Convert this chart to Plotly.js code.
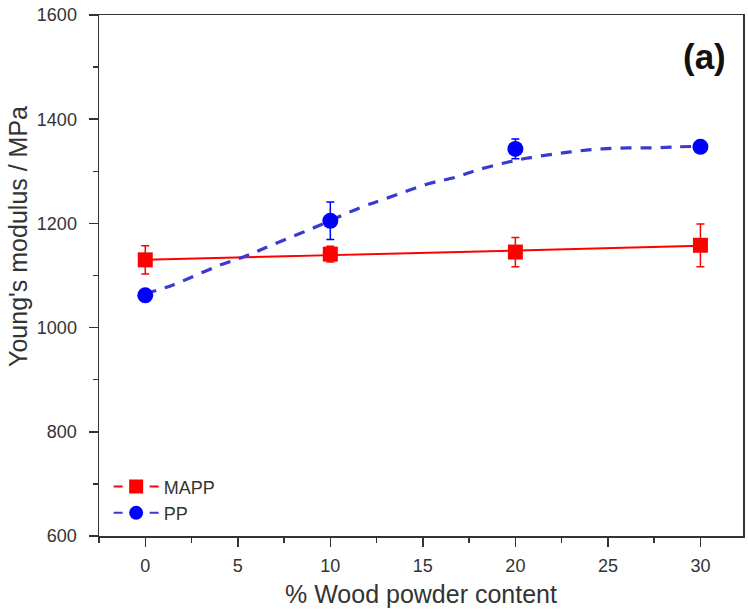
<!DOCTYPE html>
<html>
<head>
<meta charset="utf-8">
<script src="https://cdn.plot.ly/plotly-3.0.1.min.js"></script>
<style>html,body{margin:0;padding:0;background:#fff;}#chart{width:748px;height:613px;}</style>
</head>
<body>
<div id="chart"></div>
<script>
// Data
var woodContent = [0, 10, 20, 30];
var mappModulus = [1130, 1141, 1145, 1158];
var mappError = [27, 15, 28, 41];
var ppModulus = [1062, 1205, 1343, 1347];
var ppError = [8, 36, 19, 10];

// Fit lines as drawn in the reference
var mappFitX = [0, 30];
var mappFitY = [1130, 1157];
var ppFitX = [0, 1.5, 3.9, 5.4, 6.8, 9.2, 11.6, 13.1, 15.3, 16.8, 17.9, 19.4, 20.6, 22.1, 23.4, 24.7, 26.1, 27.5, 28.8, 30];
var ppFitY = [1065, 1082, 1118, 1137, 1158, 1193, 1230, 1249, 1276, 1289, 1302, 1316, 1325, 1333, 1339, 1343, 1345, 1345, 1347, 1348];

var xTicks = [0, 5, 10, 15, 20, 25, 30];
var yTicks = [600, 800, 1000, 1200, 1400, 1600];

var RED = '#ff0000', BLUE = '#0000ff', BLUE_LINE = '#3a3ad0';
var FONT = 'Liberation Sans, Arial, sans-serif';

var traces = [
  {x: mappFitX, y: mappFitY, mode: 'lines', line: {color: RED, width: 2}, showlegend: false, hoverinfo: 'skip'},
  {x: ppFitX, y: ppFitY, mode: 'lines', line: {color: BLUE_LINE, width: 3.2, dash: '11px,9px', shape: 'spline'}, showlegend: false, hoverinfo: 'skip'},
  {x: woodContent, y: mappModulus, mode: 'markers', name: 'MAPP', showlegend: false,
   marker: {symbol: 'square', size: 15, color: RED},
   error_y: {type: 'data', array: mappError, visible: true, color: RED, thickness: 1.5, width: 4}},
  {x: woodContent, y: ppModulus, mode: 'markers', name: 'PP', showlegend: false,
   marker: {symbol: 'circle', size: 16, color: BLUE},
   error_y: {type: 'data', array: ppError, visible: true, color: BLUE, thickness: 1.5, width: 4}},
  {x: [null], y: [null], mode: 'lines+markers', name: 'MAPP',
   marker: {symbol: 'square', size: 14, color: RED}, line: {color: RED, width: 2, dash: 'dash'}},
  {x: [null], y: [null], mode: 'lines+markers', name: 'PP',
   marker: {symbol: 'circle', size: 14, color: BLUE}, line: {color: BLUE_LINE, width: 2, dash: 'dash'}}
];

var axisCommon = {
  showline: true, linecolor: '#333', linewidth: 1.5, mirror: true,
  ticks: 'outside', ticklen: 9, tickwidth: 1.5, tickcolor: '#333',
  showgrid: false, zeroline: false,
  tickfont: {family: FONT, size: 18, color: '#333'}
};

var layout = {
  width: 748, height: 613,
  margin: {l: 99, r: 5, t: 15, b: 77},
  paper_bgcolor: '#fff', plot_bgcolor: '#fff',
  font: {family: FONT, color: '#333'},
  xaxis: Object.assign({}, axisCommon, {
    range: [-2.5, 32.3], tickvals: xTicks, ticktext: xTicks.map(String),
    minor: {dtick: 2.5, tick0: 0, ticks: 'outside', ticklen: 5, tickwidth: 1.5, tickcolor: '#333'},
    ticklabelstandoff: 4,
    title: {text: '% Wood powder content', font: {family: FONT, size: 25, color: '#333'}, standoff: 10}
  }),
  yaxis: Object.assign({}, axisCommon, {
    range: [600, 1600], tickvals: yTicks, ticktext: yTicks.map(String),
    minor: {dtick: 100, tick0: 600, ticks: 'outside', ticklen: 5, tickwidth: 1.5, tickcolor: '#333'},
    ticklabelstandoff: 8
  }),
  legend: {x: 0.015, y: 0.13, xanchor: 'left', yanchor: 'top', bgcolor: 'rgba(0,0,0,0)',
    font: {family: FONT, size: 18, color: '#333'}, itemwidth: 45, tracegroupgap: 0},
  annotations: [
    {text: "Young's modulus / MPa", textangle: -90, xref: 'paper', yref: 'paper',
     x: -0.125, y: 0.575, xanchor: 'center', yanchor: 'middle', showarrow: false,
     font: {family: FONT, size: 25, color: '#333'}},
    {text: '<b>(a)</b>', xref: 'paper', yref: 'paper', x: 0.94, y: 0.92,
     xanchor: 'center', yanchor: 'middle', showarrow: false,
     font: {family: FONT, size: 35, color: '#111'}}
  ]
};

Plotly.newPlot('chart', traces, layout, {displayModeBar: false, staticPlot: true});
</script>
</body>
</html>
